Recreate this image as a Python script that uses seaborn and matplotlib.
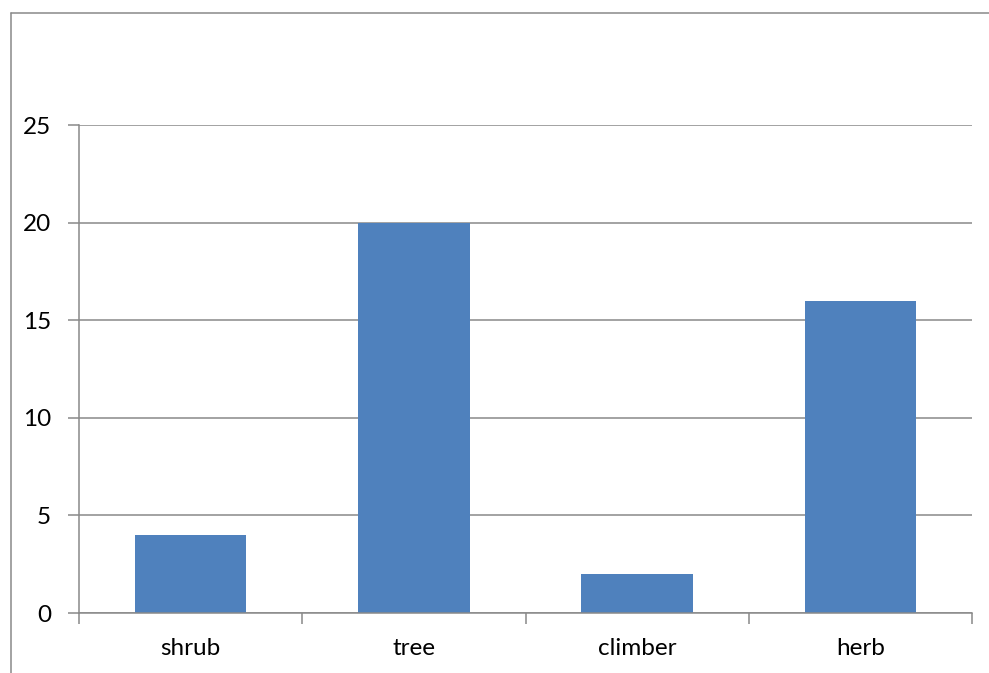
import matplotlib
matplotlib.use("Agg")
import matplotlib.pyplot as plt
from matplotlib.lines import Line2D
import seaborn as sns
import pandas as pd

categories = ["shrub", "tree", "climber", "herb"]
counts = [4, 20, 2, 16]
y_ticks = [0, 5, 10, 15, 20, 25]

sns.set_theme(style="white")
plt.rcParams["font.family"] = ["Lato", "DejaVu Sans"]

W, H = 989, 673
fig = plt.figure(figsize=(W / 100, H / 100), dpi=100)
ax = fig.add_axes([79 / W, 1 - 613 / H, (972 - 79) / W, (613 - 125) / H])

df = pd.DataFrame({"type": categories, "count": counts})
sns.barplot(data=df, x="type", y="count", color="#4F81BD", saturation=1,
            width=0.5, linewidth=0, ax=ax)

grid_c = "#898989"
ax.set_ylim(0, 25)
ax.set_xlim(-0.5, len(categories) - 0.5)
ax.set_yticks(y_ticks)
ax.set_yticklabels([str(v) for v in y_ticks])
ax.yaxis.grid(True, color=grid_c, linewidth=1.1)
ax.set_axisbelow(True)
ax.set_xlabel("")
ax.set_ylabel("")

for side in ("top", "right"):
    ax.spines[side].set_visible(False)
for side in ("left", "bottom"):
    ax.spines[side].set_color(grid_c)
    ax.spines[side].set_linewidth(1.1)

# category boundary ticks on x, outward ticks on y
ax.set_xticks([i - 0.5 for i in range(len(categories) + 1)], minor=True)
ax.tick_params(axis="x", which="major", length=0, pad=18, labelsize=17.5, labelcolor="black")
ax.tick_params(axis="x", which="minor", length=8, width=1.1, color=grid_c, direction="out", bottom=True)
ax.tick_params(axis="y", which="major", length=8, width=1.1, color=grid_c, direction="out",
               left=True, pad=12, labelsize=17.5, labelcolor="black")

# outer chart frame (top and left edges)
fig.add_artist(Line2D([10.5 / W, 10.5 / W], [0, 1 - 12.5 / H], transform=fig.transFigure,
                      color=grid_c, linewidth=1.1))
fig.add_artist(Line2D([10.5 / W, 1], [1 - 12.5 / H, 1 - 12.5 / H], transform=fig.transFigure,
                      color=grid_c, linewidth=1.1))

fig.savefig("out.png", dpi=100)
